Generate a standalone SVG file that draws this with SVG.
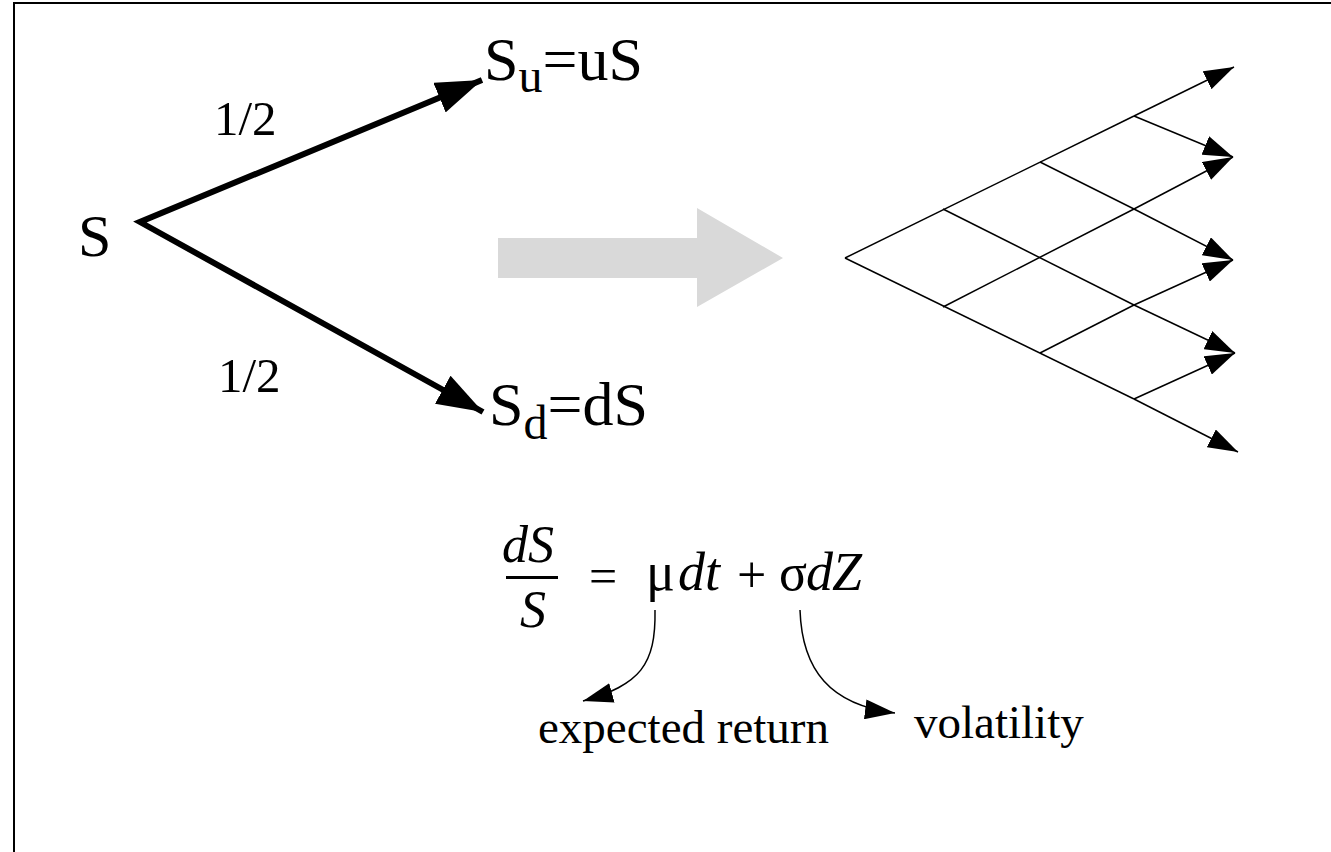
<svg xmlns="http://www.w3.org/2000/svg" width="1331" height="852" viewBox="0 0 1331 852">
<defs>
<style>
.t{font-family:"Liberation Serif","Times New Roman",serif;fill:#000}
.i{font-style:italic}
.thick{stroke:#000;stroke-width:6;fill:none}
.thin{stroke:#000;stroke-width:1.5;fill:none}
</style>
<marker id="big" viewBox="0 0 46 32" refX="46" refY="16" markerWidth="46" markerHeight="32" markerUnits="userSpaceOnUse" orient="auto-start-reverse">
<path d="M0,0 L46,16 L0,32 Z" fill="#000"/>
</marker>
<marker id="sm" viewBox="0 0 30 20" refX="30" refY="10" markerWidth="30" markerHeight="20" markerUnits="userSpaceOnUse" orient="auto">
<path d="M0,0 L30,10 L0,20 Z" fill="#000"/>
</marker>
</defs>
<rect width="1331" height="852" fill="#fff"/>
<path d="M14,852 V3 H1331" fill="none" stroke="#000" stroke-width="2"/>

<g id="tree">
<text class="t" x="78" y="256" font-size="60">S</text>
<text class="t" x="484" y="80" font-size="62">S<tspan dy="12" font-size="48">u</tspan><tspan dy="-12">=uS</tspan></text>
<text class="t" x="489" y="425" font-size="62">S<tspan dy="14" font-size="48">d</tspan><tspan dy="-14">=dS</tspan></text>
<text class="t" x="214" y="135" font-size="49">1/2</text>
<text class="t" x="218" y="392" font-size="49">1/2</text>
</g>

<g id="connectors">
<polyline class="thick" points="482,80 140,222 483,412" marker-start="url(#big)" marker-end="url(#big)" stroke-linejoin="miter"/>
<polygon id="bigarrow" points="498,238 697,238 697,208 783,258 697,307 697,278 498,278" fill="#d9d9d9"/>
<g class="thin">
<path d="M845,258 L1134,116" />
<path d="M1134,116 L1234,67" marker-end="url(#sm)"/>
<path d="M845,258 L1134,399" />
<path d="M1134,399 L1238,452" marker-end="url(#sm)"/>
<path d="M943,209 L1134,305" />
<path d="M1134,305 L1235,353" marker-end="url(#sm)"/>
<path d="M1040,162 L1134,209" />
<path d="M1134,209 L1233,260" marker-end="url(#sm)"/>
<path d="M1134,116 L1233,157" marker-end="url(#sm)"/>
<path d="M943,307 L1134,209" />
<path d="M1134,209 L1233,157" marker-end="url(#sm)"/>
<path d="M1040,353 L1134,305" />
<path d="M1134,305 L1233,260" marker-end="url(#sm)"/>
<path d="M1134,399 L1235,353" marker-end="url(#sm)"/>
</g>
<path class="thin" d="M655,610 C656,665 640,685 583,701" marker-end="url(#sm)"/>
<path class="thin" d="M800,610 C802,670 830,705 895,713" marker-end="url(#sm)"/>
</g>

<g id="equation">
<text class="t i" x="502" y="562" font-size="52">dS</text>
<rect x="506" y="576" width="52" height="3" fill="#000"/>
<text class="t i" x="520" y="627" font-size="52">S</text>
<text class="t" x="589" y="593" font-size="50">=</text>
<text class="t" x="646" y="590" font-size="54">μ</text>
<text class="t i" x="678" y="590" font-size="54">d</text>
<text class="t i" x="705" y="590" font-size="54">t</text>
<text class="t" x="737" y="592" font-size="52">+</text>
<text class="t" x="779" y="590" font-size="52">σ</text>
<text class="t i" x="806" y="590" font-size="54">d</text>
<text class="t i" x="832" y="590" font-size="54">Z</text>
</g>

<g id="labels">
<text class="t" x="538" y="743" font-size="47">expected return</text>
<text class="t" x="914" y="738" font-size="47">volatility</text>
</g>
</svg>
